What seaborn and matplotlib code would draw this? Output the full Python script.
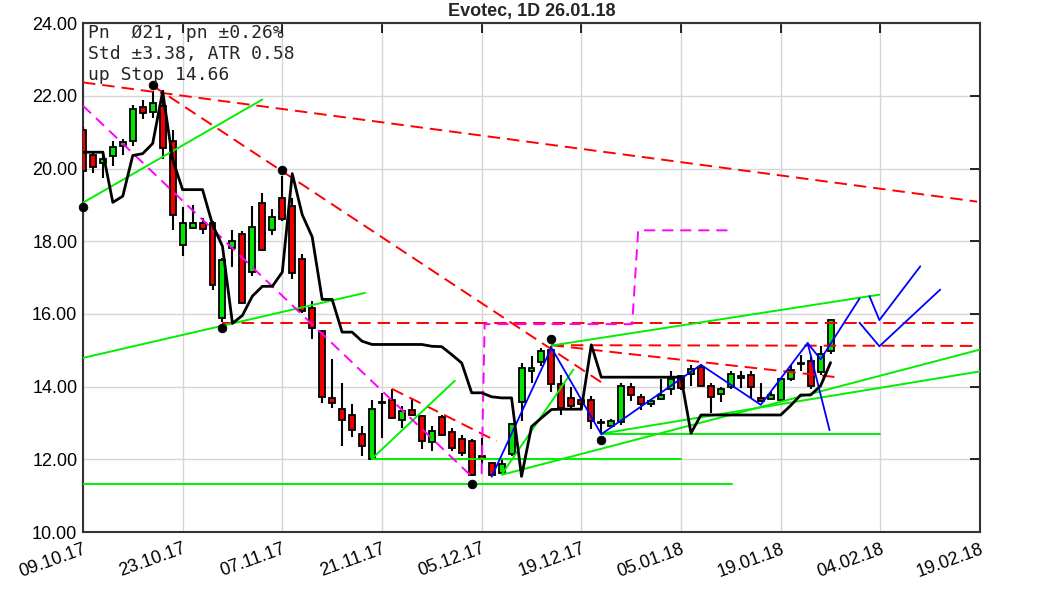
import numpy as np
import pandas as pd
import matplotlib
matplotlib.use("Agg")
import matplotlib.pyplot as plt
import seaborn as sns

# ---------------- data ----------------
opens = [21.07, 20.36, 20.14, 20.34, 20.63, 20.75, 21.69, 21.55, 21.71, 20.75,
         17.89, 18.37, 18.50, 18.50, 15.89, 17.82, 18.21, 17.16, 19.05, 18.32,
         19.19, 18.98, 17.52, 16.17, 15.52, 13.69, 13.39, 13.22, 12.70, 12.01,
         13.58, 13.64, 13.08, 13.37, 13.20, 12.47, 13.17, 12.75, 12.55, 12.50,
         12.10, 11.90, 11.63, 12.16, 13.57, 14.42, 14.67, 15.02, 14.06, 13.69,
         13.64, 13.64, 13.01, 12.93, 13.02, 14.00, 13.72, 13.53, 13.66, 13.94,
         14.29, 14.36, 14.54, 14.01, 13.81, 14.00, 14.24, 14.33, 13.69, 13.66,
         13.63, 14.20, 14.65, 14.70, 14.40, 14.97]
closes = [19.92, 20.05, 20.27, 20.60, 20.72, 21.64, 21.53, 21.80, 20.57, 18.73,
          18.50, 18.50, 18.34, 16.80, 17.48, 18.02, 16.30, 18.40, 17.77, 18.67,
          18.60, 17.13, 16.07, 15.62, 13.72, 13.55, 13.08, 12.82, 12.36, 13.39,
          13.56, 13.14, 13.32, 13.23, 12.50, 12.77, 12.68, 12.32, 12.18, 11.58,
          12.01, 11.58, 11.88, 12.96, 14.52, 14.52, 14.97, 14.06, 13.42, 13.48,
          13.53, 13.05, 13.00, 13.05, 14.01, 13.78, 13.51, 13.60, 13.78, 14.20,
          13.97, 14.49, 14.03, 13.72, 13.94, 14.36, 14.30, 14.00, 13.60, 13.76,
          14.20, 14.47, 14.63, 14.03, 14.91, 15.83]
highs = [21.15, 20.47, 20.47, 20.75, 20.80, 21.76, 21.88, 22.12, 22.17, 21.07,
         18.93, 19.00, 18.65, 18.55, 17.55, 18.32, 18.27, 18.96, 19.33, 18.89,
         19.80, 19.19, 17.66, 16.35, 15.55, 14.75, 14.09, 13.53, 12.91, 13.64,
         13.83, 13.94, 13.46, 13.69, 13.23, 12.91, 13.23, 12.87, 12.68, 12.55,
         12.59, 11.92, 12.00, 13.00, 14.65, 14.84, 15.07, 15.13, 14.33, 14.00,
         13.70, 13.74, 13.10, 13.10, 14.10, 14.10, 13.80, 13.65, 14.20, 14.42,
         14.33, 14.60, 14.62, 14.09, 13.99, 14.42, 14.42, 14.42, 14.09, 13.85,
         14.25, 14.60, 14.88, 14.84, 15.13, 15.86]
lows = [19.12, 19.89, 19.74, 20.08, 20.38, 20.61, 21.35, 21.39, 20.25, 18.32,
        17.59, 18.35, 18.21, 16.67, 15.78, 17.30, 16.26, 17.04, 17.72, 18.18,
        18.55, 16.95, 16.03, 15.31, 13.55, 13.42, 12.38, 12.62, 12.10, 12.01,
        12.59, 13.14, 12.87, 13.19, 12.29, 12.22, 12.64, 12.22, 12.09, 11.54,
        11.86, 11.56, 11.56, 12.10, 13.05, 14.10, 14.56, 13.85, 13.23, 13.37,
        13.40, 12.84, 12.71, 12.90, 12.95, 13.60, 13.35, 13.45, 13.63, 13.78,
        13.90, 14.01, 13.98, 13.28, 13.57, 13.94, 13.97, 13.70, 13.57, 13.63,
        13.60, 14.15, 14.42, 13.94, 14.33, 14.90]

stop_line = [20.45, 20.45, 20.45, 19.07, 19.24, 20.36, 20.41, 20.69, 22.12, 20.25,
             19.42, 19.42, 19.42, 18.46, 17.86, 15.74, 15.96, 16.49, 16.76, 16.76,
             17.15, 19.86, 18.73, 18.12, 16.40, 16.40, 15.50, 15.50, 15.25, 15.16,
             15.16, 15.16, 15.16, 15.16, 15.16, 15.11, 15.10, 14.88, 14.65, 13.83,
             13.83, 13.72, 13.69, 13.69, 11.53, 12.90, 13.14, 13.37, 13.38, 13.38,
             13.38, 15.15, 14.26, 14.26, 14.26, 14.26, 14.26, 14.26, 14.26, 14.26,
             14.26, 12.72, 13.22, 13.22, 13.22, 13.22, 13.22, 13.22, 13.22, 13.22,
             13.22, 13.48, 13.77, 13.77, 14.02, 14.66]

pivot_idx = [0, 7, 14, 20, 39, 47, 52]
pivot_val = [18.93, 22.31, 15.60, 19.97, 11.33, 15.31, 12.53]

tick_labels = ["09.10.17", "23.10.17", "07.11.17", "21.11.17", "05.12.17",
               "19.12.17", "05.01.18", "19.01.18", "04.02.18", "19.02.18"]

info_lines = ["Pn  Ø21, pn ±0.26%", "Std ±3.38, ATR 0.58", "up Stop 14.66"]

# trend lines: (x0, y0, x1, y1) in bar-index / price units
red_lines = [(0, 22.37, 89.7, 19.09), (7, 22.28, 52.5, 14.03), (14, 15.75, 90, 15.75),
             (47, 15.14, 90, 15.12), (47, 15.14, 75.9, 14.25), (31.0, 13.94, 41.5, 12.50)]
green_lines = [(0, 19.06, 18, 21.90), (0, 14.79, 28.3, 16.58), (0, 11.31, 65.1, 11.31),
               (29, 12.02, 60, 12.02), (29, 12.02, 37.3, 14.16), (42, 11.58, 49.2, 14.47),
               (47, 15.13, 79.9, 16.53), (42.1, 11.58, 90, 15.02), (52.1, 12.71, 90, 14.42),
               (52.1, 12.71, 80, 12.71)]
magenta_x1 = [0, 39]
magenta_y1 = [21.73, 11.53]
magenta_x2 = [40.0, 40.3, 55.1, 55.7, 65.1]
magenta_y2 = [11.60, 15.72, 15.72, 18.30, 18.30]
blue_paths = [
    ([41, 47, 52, 62, 68, 72.7, 74.0, 77.9], [11.52, 15.07, 12.69, 14.60, 13.50, 15.20, 14.75, 16.42]),
    ([72.7, 74.9], [15.20, 12.80]),
    ([78.9, 79.9, 84.0], [16.49, 15.83, 17.31]),
    ([77.9, 79.9, 86.0], [15.76, 15.11, 16.67]),
]

# ---------------- style ----------------
sns.set_theme(style="white")
plt.rcParams["font.family"] = ["Liberation Sans", "DejaVu Sans"]
plt.rcParams["lines.scale_dashes"] = False

fig = plt.figure(figsize=(10.63, 5.91), dpi=100)
ax = fig.add_axes([0.078, 0.0998, 0.844, 0.861])

n = len(opens)
idx = np.arange(n)
df = pd.DataFrame({"i": idx, "open": opens, "close": closes, "high": highs,
                   "low": lows, "stop": stop_line})

# wicks
ax.vlines(df["i"], df["low"], df["high"], color="black", lw=1.5, zorder=3)
# bodies
up = df["close"] >= df["open"]
bottom = np.minimum(df["open"], df["close"])
height = np.maximum(np.abs(df["close"] - df["open"]), 0.02)
colors = np.where(up, "#00e600", "#ee0000")
ax.bar(df["i"], height, bottom=bottom, width=0.6, color=colors,
       edgecolor="black", linewidth=1.3, zorder=4)

# trend lines
for x0, y0, x1, y1 in red_lines:
    ax.plot([x0, x1], [y0, y1], color="#ff0000", lw=1.4, dashes=(9, 5), zorder=5)
for x0, y0, x1, y1 in green_lines:
    ax.plot([x0, x1], [y0, y1], color="#00f000", lw=1.4, zorder=5)
ax.plot(magenta_x1, magenta_y1, color="#ff00ff", lw=1.4, dashes=(8, 5), zorder=5)
ax.plot(magenta_x2, magenta_y2, color="#ff00ff", lw=1.4, dashes=(8, 5), zorder=5)
for bx, by in blue_paths:
    ax.plot(bx, by, color="#0000ff", lw=1.3, zorder=5)

# stop line
sns.lineplot(data=df, x="i", y="stop", color="black", lw=2.0, ax=ax, zorder=6)
# pivots
piv = pd.DataFrame({"i": pivot_idx, "v": pivot_val})
sns.scatterplot(data=piv, x="i", y="v", color="black", s=40, ax=ax, zorder=7,
                edgecolor="black", clip_on=False)

ax.set_xlim(0, 90)
ax.set_ylim(10, 24)
ax.set_xticks(np.arange(0, 91, 10))
ax.set_xticklabels(tick_labels, rotation=20, ha="right", rotation_mode="anchor")
ax.set_yticks(np.arange(10, 24.1, 2))
ax.set_yticklabels([f"{v:.2f}" for v in np.arange(10, 24.1, 2)])
ax.set_xlabel("")
ax.set_ylabel("")
ax.tick_params(axis="both", direction="in", length=7, width=1.2, top=True, right=True,
               labelsize=13, colors="black", pad=4)
ax.tick_params(axis="x", pad=6)
ax.grid(True, color="#d6d6d6", lw=1.0)
ax.set_axisbelow(True)
for s in ax.spines.values():
    s.set_color("#333333")
    s.set_linewidth(1.5)
    s.set_visible(True)

ax.set_title("Evotec, 1D 26.01.18", fontsize=13, fontweight="bold", pad=5)

ax.text(0.006, 0.998, "\n".join(info_lines),
        transform=ax.transAxes, ha="left", va="top", fontsize=13,
        family="DejaVu Sans Mono", linespacing=1.2, zorder=8)

fig.savefig("out.png", dpi=100)
